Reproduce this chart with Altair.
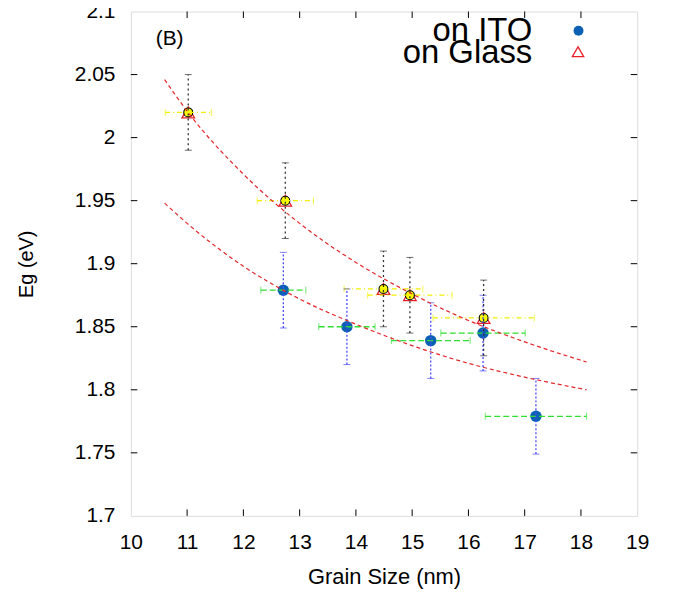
import altair as alt
import pandas as pd

# ---- data ----
x_ticks = [10, 11, 12, 13, 14, 15, 16, 17, 18, 19]
y_ticks = [1.7, 1.75, 1.8, 1.85, 1.9, 1.95, 2.0, 2.05, 2.1]

ito_x = [12.71, 13.84, 15.33, 16.26, 17.20]
ito_y = [1.879, 1.850, 1.839, 1.845, 1.779]
ito_xerr = [0.40, 0.50, 0.70, 0.75, 0.90]
ito_yerr = [0.03, 0.03, 0.03, 0.03, 0.03]

glass_x = [11.02, 12.745, 14.49, 14.96, 16.27]
glass_y = [2.020, 1.950, 1.880, 1.875, 1.857]
glass_xerr = [0.41, 0.50, 0.70, 0.75, 0.90]
glass_yerr = [0.03, 0.03, 0.03, 0.03, 0.03]

fit_x = [10.6, 11.0, 12.0, 13.0, 14.0, 15.0, 16.0, 17.0, 18.1]
fit_glass = [2.046, 2.021, 1.971, 1.932, 1.901, 1.876, 1.855, 1.838, 1.822]
fit_ito = [1.948, 1.932, 1.898, 1.872, 1.852, 1.835, 1.821, 1.810, 1.800]

W, H = 509, 507

ito = pd.DataFrame({"x": ito_x, "y": ito_y, "xe": ito_xerr, "ye": ito_yerr})
ito["x1"], ito["x2"] = ito.x - ito.xe, ito.x + ito.xe
ito["y1"], ito["y2"] = ito.y - ito.ye, ito.y + ito.ye
gl = pd.DataFrame({"x": glass_x, "y": glass_y, "xe": glass_xerr, "ye": glass_yerr})
gl["x1"], gl["x2"] = gl.x - gl.xe, gl.x + gl.xe
gl["y1"], gl["y2"] = gl.y - gl.ye, gl.y + gl.ye
fits = pd.DataFrame({"x": fit_x * 2, "y": fit_glass + fit_ito,
                     "s": ["glass"] * len(fit_x) + ["ito"] * len(fit_x)})
xt = pd.DataFrame({"v": x_ticks[1:-1]})
yt = pd.DataFrame({"v": y_ticks[1:-1]})

FONT = "Liberation Sans"
xs = alt.Scale(domain=[10, 19], nice=False, zero=False)
ys = alt.Scale(domain=[1.7, 2.1], nice=False, zero=False)
xax = alt.Axis(values=x_ticks, format="d", ticks=False, tickSize=0, domain=False, grid=False,
               labelFlush=False, labelOverlap=False,
               labelFontSize=21, labelPadding=16, labelColor="black", labelFont=FONT,
               title="Grain Size (nm)", titleFontSize=22, titleFontWeight="normal",
               titleFont=FONT, titlePadding=14, titleColor="black")
yax = alt.Axis(values=y_ticks, format=".2~f", ticks=False, tickSize=0, domain=False, grid=False,
               labelFlush=False, labelOverlap=False,
               labelFontSize=21, labelPadding=16, labelColor="black", labelFont=FONT,
               title="Eg (eV)", titleFontSize=20, titleFontWeight="normal",
               titleFont=FONT, titlePadding=38, titleColor="black")

X = alt.X("x:Q", scale=xs, axis=xax)
Y = alt.Y("y:Q", scale=ys, axis=yax)

# points
ito_pts = alt.Chart(ito).mark_point(shape="circle", filled=True, size=132, color="#0a60b2", opacity=1).encode(X, Y)
gl_tri = alt.Chart(gl).mark_point(shape="triangle-up", filled=False, size=160, color="#e8202a",
                                   strokeWidth=1.3, opacity=1).encode(X, Y)
gl_circ = alt.Chart(gl).mark_point(shape="circle", filled=True, size=80, fill="#ffff00",
                                    stroke="black", strokeWidth=1.1, opacity=1).encode(X, Y)

# error bars
ito_v = alt.Chart(ito).mark_rule(color="#4a4aff", strokeDash=[2, 2], strokeWidth=1.3).encode(
    x=alt.X("x:Q", scale=xs), y=alt.Y("y1:Q", scale=ys), y2="y2:Q")
ito_vc = alt.Chart(ito).transform_fold(["y1", "y2"], as_=["k", "yy"]).mark_tick(
    orient="horizontal", size=7, thickness=1, color="#4a4aff").encode(
    x=alt.X("x:Q", scale=xs), y=alt.Y("yy:Q", scale=ys))
ito_h = alt.Chart(ito).mark_rule(color="#30e030", strokeDash=[6, 3], strokeWidth=1.3).encode(
    x=alt.X("x1:Q", scale=xs), x2="x2:Q", y=alt.Y("y:Q", scale=ys))
ito_hc = alt.Chart(ito).transform_fold(["x1", "x2"], as_=["k", "xx"]).mark_tick(
    orient="vertical", size=7, thickness=1, color="#30e030").encode(
    x=alt.X("xx:Q", scale=xs), y=alt.Y("y:Q", scale=ys))

gl_v = alt.Chart(gl).mark_rule(color="#333333", strokeDash=[2, 3], strokeWidth=1.3).encode(
    x=alt.X("x:Q", scale=xs), y=alt.Y("y1:Q", scale=ys), y2="y2:Q")
gl_vc = alt.Chart(gl).transform_fold(["y1", "y2"], as_=["k", "yy"]).mark_tick(
    orient="horizontal", size=7, thickness=1, color="#333333").encode(
    x=alt.X("x:Q", scale=xs), y=alt.Y("yy:Q", scale=ys))
gl_h = alt.Chart(gl).mark_rule(color="#f0f000", strokeDash=[5, 3, 1, 3], strokeWidth=1.3).encode(
    x=alt.X("x1:Q", scale=xs), x2="x2:Q", y=alt.Y("y:Q", scale=ys))
gl_hc = alt.Chart(gl).transform_fold(["x1", "x2"], as_=["k", "xx"]).mark_tick(
    orient="vertical", size=7, thickness=1, color="#f0f000").encode(
    x=alt.X("xx:Q", scale=xs), y=alt.Y("y:Q", scale=ys))

# fits
fit_lines = alt.Chart(fits).mark_line(color="#e3262a", strokeDash=[4, 3], strokeWidth=1.2,
                                      interpolate="monotone").encode(
    x=alt.X("x:Q", scale=xs), y=alt.Y("y:Q", scale=ys), detail="s:N")

# inward frame ticks
tk = dict(color="black", strokeWidth=1)
t_top = alt.Chart(xt).mark_rule(**tk).encode(x=alt.X("v:Q", scale=xs), y=alt.value(0), y2=alt.value(6.5))
t_bot = alt.Chart(xt).mark_rule(**tk).encode(x=alt.X("v:Q", scale=xs), y=alt.value(H), y2=alt.value(H - 6.5))
t_left = alt.Chart(yt).mark_rule(**tk).encode(y=alt.Y("v:Q", scale=ys), x=alt.value(0), x2=alt.value(6.5))
t_right = alt.Chart(yt).mark_rule(**tk).encode(y=alt.Y("v:Q", scale=ys), x=alt.value(W), x2=alt.value(W - 6.5))

# annotations / legend
one = pd.DataFrame({"a": [0]})
lab_b = alt.Chart(one).mark_text(text="(B)", align="left", baseline="alphabetic", fontSize=21,
                                 font=FONT, color="black").encode(x=alt.value(25), y=alt.value(33.5))
leg_t1 = alt.Chart(one).mark_text(text="on ITO", align="right", baseline="alphabetic", fontSize=33,
                                  font=FONT, color="black").encode(x=alt.value(403.5), y=alt.value(30))
leg_t2 = alt.Chart(one).mark_text(text="on Glass", align="right", baseline="alphabetic", fontSize=33,
                                  font=FONT, color="black").encode(x=alt.value(403.5), y=alt.value(51.5))
leg_p1 = alt.Chart(one).mark_point(shape="circle", filled=True, size=100, color="#0a60b2",
                                   opacity=1).encode(x=alt.value(450), y=alt.value(19.3))
leg_p2 = alt.Chart(one).mark_point(shape="triangle-up", filled=False, size=130, color="#e8202a",
                                   strokeWidth=1.3, opacity=1).encode(x=alt.value(449.5), y=alt.value(40.5))

chart = alt.layer(
    ito_pts, gl_tri, gl_circ,
    ito_h, ito_hc, gl_h, gl_hc, ito_v, ito_vc, gl_v, gl_vc,
    fit_lines,
    t_top, t_bot, t_left, t_right,
    lab_b, leg_t1, leg_t2, leg_p1, leg_p2,
).properties(
    width=W, height=H,
    autosize=alt.AutoSizeParams(type="none"),
    padding={"left": 123.5, "top": 2, "right": 40, "bottom": 80},
).configure_view(stroke="black", strokeWidth=1.4).configure(background="white")

chart.save("out.html", embed_options={"renderer": "svg", "actions": False})
